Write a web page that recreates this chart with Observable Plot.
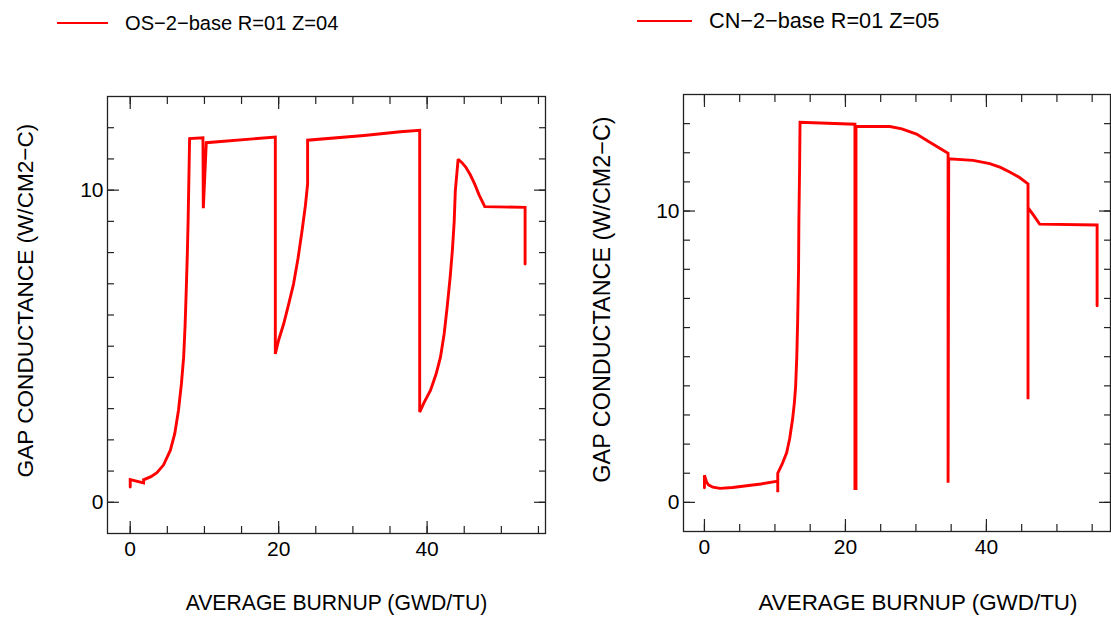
<!DOCTYPE html>
<html>
<head>
<meta charset="utf-8">
<script src="https://cdn.jsdelivr.net/npm/d3@7"></script>
<script src="https://cdn.jsdelivr.net/npm/@observablehq/plot@0.6"></script>
<style>
  html, body { margin: 0; padding: 0; background: #fff; }
  #root { position: relative; width: 1111px; height: 621px; overflow: hidden; font-family: "Liberation Sans", Arial, sans-serif; }
  .panel { position: absolute; top: 0; }
  .legend { position: absolute; display: flex; align-items: center; color: #000; white-space: nowrap; }
  .legend .sw { display: inline-block; height: 0; border-top: 2px solid #ff0000; }
</style>
</head>
<body>
<div id="root"></div>
<script>
// ---- Data ----
const leftLabel = "OS\u22122\u2212base R=01 Z=04";
const rightLabel = "CN\u22122\u2212base R=01 Z=05";
const xTitle = "AVERAGE BURNUP (GWD/TU)";
const yTitle = "GAP CONDUCTANCE (W/CM2\u2212C)";

const leftBurnup = [0, 0, 1.8, 1.8, 2.8, 3.6, 4.5, 5.4, 6.0, 6.5, 6.9, 7.2, 7.4, 7.55, 7.7, 7.8, 7.9, 8.0,
  9.8, 9.85, 10.25, 19.55, 19.55, 20.0, 20.67, 21.3, 22.0, 22.6, 23.15, 23.6, 23.9, 23.9,
  31.5, 36.4, 39.0, 39.0, 39.6, 40.45, 41.2, 41.8, 42.3, 42.7, 43.1, 43.4, 43.65, 43.8, 44.18,
  44.7, 45.2, 45.8, 46.4, 47.0, 47.77, 53.2, 53.2];
const leftGap = [0.49, 0.73, 0.62, 0.72, 0.82, 0.95, 1.2, 1.66, 2.2, 2.94, 3.8, 4.65, 5.7, 6.8, 8.0, 9.0, 10.3, 11.65,
  11.68, 9.42, 11.52, 11.70, 4.75, 5.2, 5.71, 6.3, 6.99, 7.8, 8.70, 9.5, 10.19, 11.6,
  11.75, 11.87, 11.92, 2.89, 3.2, 3.58, 4.1, 4.65, 5.4, 6.25, 7.2, 8.06, 9.0, 9.98, 10.99,
  10.88, 10.74, 10.5, 10.2, 9.85, 9.47, 9.45, 7.63];

const rightBurnup = [0, 0, 0.3, 0.57, 1.2, 2.2, 4, 6, 8, 10.4, 10.4, 10.4, 11.0, 11.67, 12.1, 12.5, 12.75, 12.94,
  13.1, 13.23, 13.35, 13.4, 13.5, 13.56, 21.35, 21.35, 21.5, 21.5, 26.3, 28, 30.08, 31.97, 34.56, 34.56,
  34.65, 38.1, 40.47, 42, 43.3, 44.7, 45.9, 45.9, 45.9, 46.7, 47.55, 55.7, 55.7];
const rightGap = [0.5, 0.93, 0.7, 0.6, 0.52, 0.48, 0.51, 0.57, 0.63, 0.73, 0.35, 1.0, 1.3, 1.71, 2.2, 2.85, 3.4, 4.0,
  5.0, 6.29, 8.0, 9.72, 11.5, 13.05, 12.98, 0.47, 0.47, 12.9, 12.9, 12.82, 12.64, 12.36, 11.98, 0.67,
  11.79, 11.74, 11.63, 11.5, 11.34, 11.15, 10.93, 3.54, 10.12, 9.85, 9.55, 9.52, 6.75];

const xMajorTicks = [0, 20, 40];
const xMinorTicks = [0, 5, 10, 15, 20, 25, 30, 35, 40, 45, 50, 55];
const yMajorTicks = [0, 10];
const leftYMinorTicks = [0, 1, 2, 3, 4, 5, 6, 7, 8, 9, 10, 11, 12];
const rightYMinorTicks = [0, 1, 2, 3, 4, 5, 6, 7, 8, 9, 10, 11, 12, 13];

function panel(xs, ys, cfg) {
  const data = xs.map((x, i) => ({x, y: ys[i]}));
  const tickStyle = {stroke: "#222", strokeWidth: 1.2, label: null, tickFormat: () => ""};
  return Plot.plot({
    width: cfg.width,
    height: 621,
    marginLeft: cfg.ml, marginRight: cfg.mr, marginTop: cfg.mt, marginBottom: cfg.mb,
    x: {domain: cfg.xDomain, axis: null, label: null},
    y: {domain: cfg.yDomain, axis: null, label: null},
    style: {fontFamily: "'Liberation Sans', Arial, sans-serif", fontSize: "21px", color: "#000", background: "transparent", overflow: "visible"},
    marks: [
      // minor ticks (inward)
      Plot.axisX(xMinorTicks, {anchor: "bottom", tickSize: -7, ...tickStyle}),
      Plot.axisX(xMinorTicks, {anchor: "top", tickSize: -7, ...tickStyle}),
      Plot.axisY(cfg.yMinor, {anchor: "left", tickSize: -7, ...tickStyle}),
      Plot.axisY(cfg.yMinor, {anchor: "right", tickSize: -7, ...tickStyle}),
      // major ticks (inward)
      Plot.axisX(xMajorTicks, {anchor: "bottom", tickSize: -12, ...tickStyle}),
      Plot.axisX(xMajorTicks, {anchor: "top", tickSize: -12, ...tickStyle}),
      Plot.axisY(yMajorTicks, {anchor: "left", tickSize: -12, ...tickStyle}),
      Plot.axisY(yMajorTicks, {anchor: "right", tickSize: -12, ...tickStyle}),
      // tick labels
      Plot.axisX(xMajorTicks, {anchor: "bottom", tickSize: 0, tickPadding: 8, label: null, fontSize: 21, fill: "#000"}),
      Plot.axisY(yMajorTicks, {anchor: "left", tickSize: 0, tickPadding: 4, label: null, fontSize: 21, fill: "#000"}),
      Plot.frame({stroke: "#222", strokeWidth: 1.3}),
      Plot.line(data, {x: "x", y: "y", stroke: "#ff0000", strokeWidth: 2.9, strokeLinejoin: "miter", strokeMiterlimit: 2}),
      // axis titles
      Plot.text([xTitle], {frameAnchor: "bottom", text: d => d, dy: cfg.xtdy, dx: cfg.xtdx, fontSize: cfg.tfs, fill: "#000"}),
      Plot.text([yTitle], {frameAnchor: "left", textAnchor: "middle", lineAnchor: "middle", text: d => d, rotate: -90, dx: cfg.ytdx, dy: cfg.ytdy, fontSize: cfg.yfs, fill: "#000"})
    ]
  });
}

const root = document.getElementById("root");

const left = document.createElement("div");
left.className = "panel";
left.style.left = "0px";
left.appendChild(panel(leftBurnup, leftGap, {
  width: 560, ml: 107, mr: 15, mt: 96, mb: 88,
  xDomain: [-3.06, 55.95], yDomain: [-1, 13], yMinor: leftYMinorTicks,
  xtdx: 10, xtdy: 76, ytdx: -82, ytdy: -14.5, tfs: 21.2, yfs: 22.6
}));
root.appendChild(left);

const right = document.createElement("div");
right.className = "panel";
right.style.left = "560px";
right.appendChild(panel(rightBurnup, rightGap, {
  width: 551, ml: 123, mr: 1, mt: 94, mb: 90,
  xDomain: [-2.97, 57.6], yDomain: [-1, 14], yMinor: rightYMinorTicks,
  xtdx: 21, xtdy: 78, ytdx: -81, ytdy: -13.5, tfs: 22.4, yfs: 23.4
}));
root.appendChild(right);

function legend(x, y, lineW, gap, label, fs) {
  const d = document.createElement("div");
  d.className = "legend";
  d.style.left = x + "px";
  d.style.top = (y - 14) + "px";
  d.style.height = "28px";
  d.style.fontSize = fs + "px";
  const sw = document.createElement("span");
  sw.className = "sw";
  sw.style.width = lineW + "px";
  sw.style.marginRight = gap + "px";
  const t = document.createElement("span");
  t.textContent = label;
  d.appendChild(sw);
  d.appendChild(t);
  root.appendChild(d);
}
legend(57, 23, 51, 17, leftLabel, 20.1);
legend(637, 21, 55, 17, rightLabel, 21.7);
</script>
</body>
</html>
